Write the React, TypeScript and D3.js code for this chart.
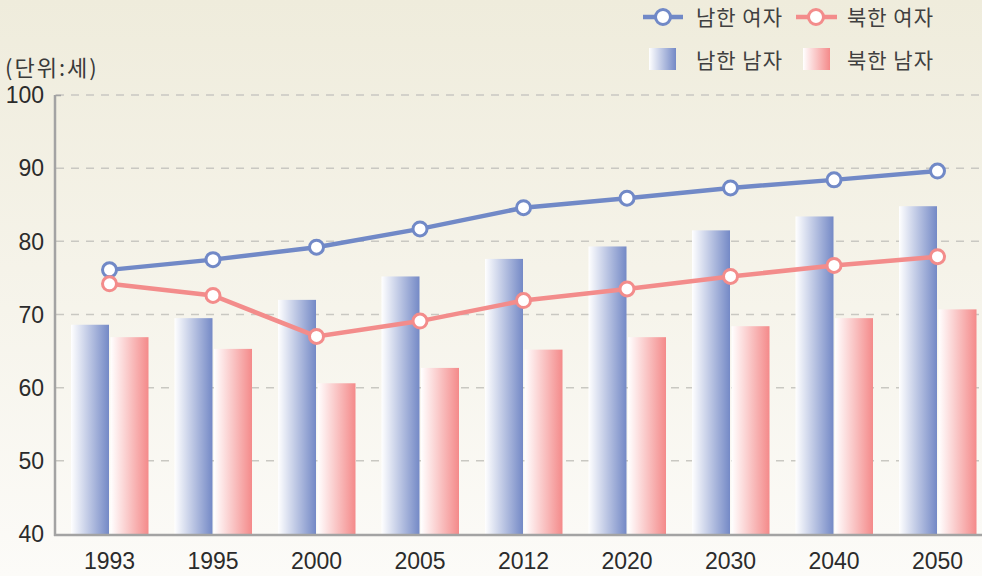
import React from "react";
import * as d3 from "d3";

const years = ["1993", "1995", "2000", "2005", "2012", "2020", "2030", "2040", "2050"];
const southFemale = [76.1, 77.5, 79.2, 81.7, 84.6, 85.9, 87.3, 88.4, 89.6];
const northFemale = [74.2, 72.6, 67.0, 69.1, 71.9, 73.5, 75.2, 76.7, 77.9];
const southMale = [68.6, 69.5, 72.0, 75.2, 77.6, 79.3, 81.5, 83.4, 84.8];
const northMale = [66.9, 65.3, 60.6, 62.7, 65.2, 66.9, 68.4, 69.5, 70.7];
const yTicks = [40, 50, 60, 70, 80, 90, 100];

const W = 982;
const H = 576;
const BLUE = "#7189c7";
const RED = "#f38c8b";
const FONT = "'Liberation Sans', Arial, sans-serif";
const KFONT = "'Noto Sans CJK KR', 'Noto Sans', sans-serif";

export default function App() {
  const x = d3.scaleBand<string>().domain(years).range([57.75, 989.25]);
  const y = d3.scaleLinear().domain([40, 100]).range([534, 95]);
  const cx = (i: number) => (x(years[i]) as number) + x.bandwidth() / 2;
  const barW = 38;

  const lineGen = d3
    .line<number>()
    .x((_, i) => cx(i))
    .y((d) => y(d));

  const legendText = {
    fontFamily: KFONT,
    fontSize: 21,
    fill: "#404040",
    letterSpacing: 1,
  } as const;

  return (
    <svg
      width={W}
      height={H}
      style={{ position: "absolute", left: 0, top: 0, display: "block" }}
    >
      <defs>
        <linearGradient id="bg" x1="0" y1="0" x2="0" y2="1">
          <stop offset="0" stopColor="#efecdc" />
          <stop offset="1" stopColor="#fcfbf8" />
        </linearGradient>
        <linearGradient id="gBlue" x1="0" y1="0" x2="1" y2="0">
          <stop offset="0" stopColor="#ffffff" />
          <stop offset="1" stopColor="#7489c6" />
        </linearGradient>
        <linearGradient id="gRed" x1="0" y1="0" x2="1" y2="0">
          <stop offset="0" stopColor="#ffffff" />
          <stop offset="1" stopColor="#f48a8a" />
        </linearGradient>
      </defs>
      <rect x={0} y={0} width={W} height={H} fill="url(#bg)" />

      {/* gridlines */}
      {yTicks
        .filter((t) => t > 40)
        .map((t) => (
          <line
            key={t}
            x1={56}
            x2={W}
            y1={y(t)}
            y2={y(t)}
            stroke="#c9c8c2"
            strokeWidth={1.5}
            strokeDasharray="8,7"
          />
        ))}

      {/* bars */}
      {years.map((yr, i) => (
        <g key={yr}>
          <rect
            x={cx(i) - barW - 0.5}
            y={y(southMale[i])}
            width={barW}
            height={y(40) - y(southMale[i])}
            fill="url(#gBlue)"
          />
          <rect
            x={cx(i) + 1}
            y={y(northMale[i])}
            width={barW}
            height={y(40) - y(northMale[i])}
            fill="url(#gRed)"
          />
        </g>
      ))}

      {/* axes */}
      <line x1={55} x2={55} y1={95} y2={536} stroke="#a3a3a3" strokeWidth={2.5} />
      <line x1={55} x2={61} y1={95.5} y2={95.5} stroke="#a3a3a3" strokeWidth={1.5} />
      <line x1={54} x2={W} y1={535} y2={535} stroke="#a3a3a3" strokeWidth={2.5} />

      {yTicks.map((t) => (
        <text
          key={t}
          x={44}
          y={y(t)}
          dy="0.36em"
          textAnchor="end"
          fontFamily={FONT}
          fontSize={23}
          fill="#2b2b2b"
        >
          {t}
        </text>
      ))}
      {years.map((yr, i) => (
        <text
          key={yr}
          x={cx(i)}
          y={569}
          textAnchor="middle"
          fontFamily={FONT}
          fontSize={23}
          fill="#2b2b2b"
        >
          {yr}
        </text>
      ))}

      <text x={5} y={76} fontFamily={KFONT} fontSize={22} letterSpacing={2} fill="#3a3a3a">
        (단위:세)
      </text>

      {/* lines */}
      <path d={lineGen(southFemale) || ""} fill="none" stroke={BLUE} strokeWidth={4.5} />
      <path d={lineGen(northFemale) || ""} fill="none" stroke={RED} strokeWidth={4.5} />
      {southFemale.map((v, i) => (
        <circle key={"s" + i} cx={cx(i)} cy={y(v)} r={7} fill="#fff" stroke={BLUE} strokeWidth={3} />
      ))}
      {northFemale.map((v, i) => (
        <circle key={"n" + i} cx={cx(i)} cy={y(v)} r={7} fill="#fff" stroke={RED} strokeWidth={3} />
      ))}

      {/* legend */}
      <g>
        <line x1={643} x2={683} y1={17} y2={17} stroke={BLUE} strokeWidth={4.5} />
        <circle cx={663} cy={17} r={7.5} fill="#fff" stroke={BLUE} strokeWidth={3} />
        <text x={696} y={17} dy="0.36em" {...legendText}>
          남한 여자
        </text>
        <line x1={796} x2={837} y1={17} y2={17} stroke={RED} strokeWidth={4.5} />
        <circle cx={816} cy={17} r={7.5} fill="#fff" stroke={RED} strokeWidth={3} />
        <text x={847} y={17} dy="0.36em" {...legendText}>
          북한 여자
        </text>
        <rect x={649} y={48} width={27} height={22} fill="url(#gBlue)" />
        <text x={696} y={60} dy="0.36em" {...legendText}>
          남한 남자
        </text>
        <rect x={803} y={48} width={27} height={22} fill="url(#gRed)" />
        <text x={847} y={60} dy="0.36em" {...legendText}>
          북한 남자
        </text>
      </g>
    </svg>
  );
}
